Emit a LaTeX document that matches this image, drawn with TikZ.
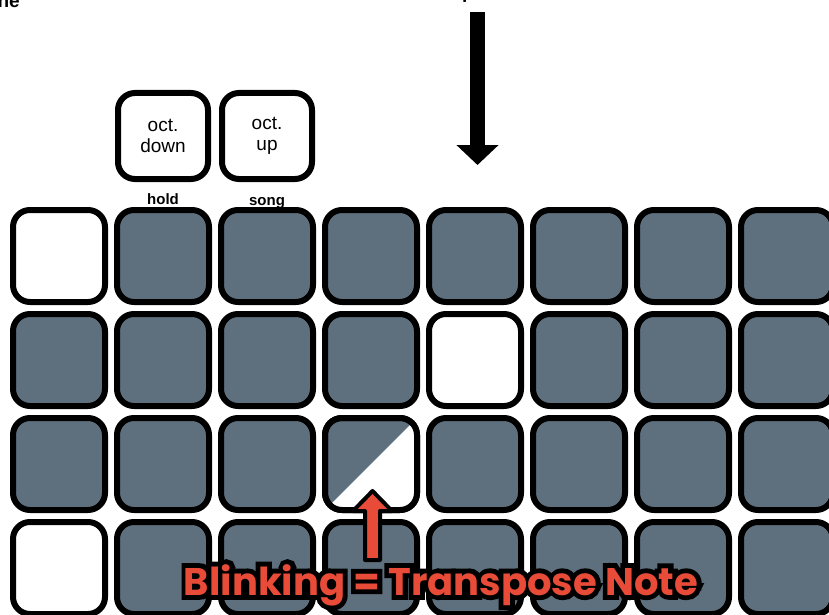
\documentclass[tikz,border=0pt]{standalone}
\usepackage{fontspec}
\setmainfont{Liberation Sans}
\newfontfamily\hintfont{Poppins}
\newfontfamily\hintedge[FakeBold=25]{Poppins}
\usetikzlibrary{arrows.meta}

\definecolor{padgrey}{RGB}{94,111,125}
\definecolor{hintred}{RGB}{232,76,56}

\tikzset{
  pad/.style={draw=black, line width=6pt, rounded corners=17pt, minimum size=92pt,
    inner sep=0pt, outer sep=0pt, fill=padgrey},
  topkey/.style={pad, fill=white, minimum width=90pt, minimum height=86pt,
    align=center, font=\fontsize{19}{21}\selectfont},
  keylabel/.style={font=\bfseries\fontsize{15}{15}\selectfont, anchor=base},
  hint/.style={font=\bfseries\fontsize{38.5}{38.5}\selectfont, anchor=base, inner sep=0pt},
}

\begin{document}
\begin{tikzpicture}[x=1pt,y=-1pt]
  \useasboundingbox (0,0) rectangle (829,615);
  \clip (0,0) rectangle (829,615);

  % cut-off text at the top
  \node[anchor=base east, inner sep=0pt, font=\bfseries\fontsize{19}{19}\selectfont] (title) at (20,8) {ne};
  \node[anchor=base west, inner sep=0pt, font=\bfseries\fontsize{19}{19}\selectfont] (mode) at (462,-1) {p};

  % octave keys
  \node[topkey] (octdown) at (163,136) {oct.\\down};
  \node[topkey] (octup) at (267,136) {oct.\\up};
  \node[keylabel] (hold) at (163,204) {hold};
  \node[keylabel] (song) at (267,205) {song};

  % pad grid
  \foreach \r in {1,...,4}
    \foreach \c in {1,...,8}{
      \def\padfill{padgrey}
      \ifnum\r\c=11 \def\padfill{white}\fi
      \ifnum\r\c=25 \def\padfill{white}\fi
      \ifnum\r\c=41 \def\padfill{white}\fi
      \node[pad, fill=\padfill] (p-\r-\c) at ({59+(\c-1)*104},{256+(\r-1)*104}) {};
    }

  % blinking pad
  \begin{scope}
    \clip[rounded corners=17pt] (p-3-4.south west) rectangle (p-3-4.north east);
    \fill[white] (p-3-4.south west) -- (p-3-4.south east) -- (p-3-4.north east) -- cycle;
  \end{scope}
  \draw[line width=6pt, rounded corners=17pt] (p-3-4.south west) rectangle (p-3-4.north east);

  % arrow into the grid
  \coordinate (downtail) at (477.5,12);
  \coordinate (downtip) at (477.5,165);
  \draw[line width=15pt, -{Triangle[width=41pt,length=20pt]}] (downtail) -- (downtip);

  % hint
  \fill[hintred, draw=black, line width=4pt, line join=round]
    (365,560) -- (365,511) -- (353,511) -- (372.5,491) -- (392,511) -- (380,511) -- (380,560) -- cycle;
  \node[hint, text=black] (blinkedge) at (441,595) {\hintedge Blinking = Transpose Note};
  \node[hint, text=hintred] (blink) at (blinkedge.base) {\hintfont Blinking = Transpose Note};
\end{tikzpicture}
\end{document}
